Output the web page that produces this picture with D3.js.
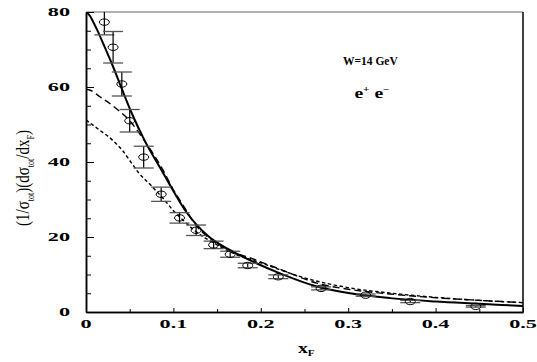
<!DOCTYPE html>
<html>
<head>
<meta charset="utf-8">
<script src="https://cdn.jsdelivr.net/npm/d3@7"></script>
<style>
  body { margin: 0; background: #fff; }
  text { font-family: "Liberation Serif", "Times New Roman", serif; }
</style>
</head>
<body>
<div id="chart"></div>
<script>
// measured points (x_F, normalized cross section, error)
const xF    = [0.021, 0.031, 0.041, 0.050, 0.066, 0.086, 0.107, 0.126, 0.146, 0.165, 0.185, 0.220, 0.269, 0.320, 0.371, 0.446];
const dsig  = [77.3, 70.6, 60.8, 51.0, 41.3, 31.4, 25.1, 21.8, 17.9, 15.4, 12.4, 9.4, 6.3, 4.5, 2.8, 1.5];
const dsErr = [3.4, 4.2, 3.2, 3.0, 2.9, 1.9, 1.4, 1.4, 1.0, 0.8, 0.6, 0.5, 0.4, 0.3, 0.3, 0.2];

// model curves
const solidX = [0, 0.005, 0.0083, 0.013, 0.02, 0.031, 0.041, 0.052, 0.068, 0.086, 0.095, 0.115, 0.14, 0.165, 0.195, 0.222, 0.264, 0.302, 0.348, 0.4, 0.45, 0.5];
const solidY = [80, 78.8, 77.3, 75.1, 71.4, 65.4, 59.5, 53.2, 45.3, 38.0, 34.3, 26.6, 20.2, 16.5, 13.0, 10.3, 6.8, 5.0, 3.7, 2.8, 2.2, 1.6];

const longX = [0, 0.004, 0.016, 0.023, 0.038, 0.05, 0.065, 0.088, 0.099, 0.114, 0.123, 0.15, 0.165, 0.188, 0.222, 0.264, 0.302, 0.348, 0.4, 0.45, 0.5];
const longY = [59.4, 59.2, 57.4, 56.3, 53.6, 51.0, 46.3, 37.9, 33.0, 27.4, 24.0, 18.3, 16.3, 14.4, 11.4, 7.7, 6.0, 4.8, 3.8, 3.1, 2.5];

const shortX = [0, 0.015, 0.03, 0.042, 0.05, 0.06, 0.075, 0.09, 0.1, 0.111, 0.125, 0.15, 0.17, 0.2, 0.25, 0.3, 0.35, 0.4, 0.45, 0.5];
const shortY = [51.2, 48.6, 45.9, 43.0, 40.4, 37.2, 33.6, 29.8, 27.0, 24.5, 21.6, 17.9, 15.5, 13.1, 9.1, 6.5, 5.0, 3.9, 3.1, 2.5];

const xTicks = [0, 0.1, 0.2, 0.3, 0.4, 0.5];
const xMinor = [0.05, 0.15, 0.25, 0.35, 0.45];
const yTicks = [0, 20, 40, 60, 80];
const yMinor = [5, 10, 15, 25, 30, 35, 45, 50, 55, 65, 70, 75];

var W = 537, H = 362;
var margin = { top: 12, right: 14, bottom: 50, left: 86 },
    width = W - margin.left - margin.right,
    height = H - margin.top - margin.bottom;

var svg = d3.select("#chart").append("svg")
    .attr("width", W).attr("height", H);

var g = svg.append("g")
    .attr("transform", "translate(" + margin.left + "," + margin.top + ")");

var x = d3.scaleLinear().domain([0, 0.5]).range([0, width]);
var y = d3.scaleLinear().domain([0, 80]).range([height, 0]);

g.append("clipPath").attr("id", "clip")
  .append("rect").attr("width", width).attr("height", height);

// frame: grey top, black right
g.append("line").attr("x1", 0).attr("x2", width).attr("y1", 0).attr("y2", 0)
    .attr("stroke", "#999").attr("stroke-width", 1.5);
g.append("line").attr("x1", width).attr("x2", width).attr("y1", 0).attr("y2", height)
    .attr("stroke", "#000").attr("stroke-width", 1.5);

// axes (ticks pointing inward)
g.append("g").attr("transform", "translate(0," + height + ")")
    .call(d3.axisBottom(x).tickValues(xMinor).tickSize(-3).tickSizeOuter(0).tickFormat(""));
g.append("g").attr("transform", "translate(0," + height + ")")
    .call(d3.axisBottom(x).tickValues(xTicks).tickSize(-4).tickSizeOuter(0).tickFormat(""));
g.append("g")
    .call(d3.axisLeft(y).tickValues(yMinor).tickSize(-5).tickSizeOuter(0).tickFormat(""));
g.append("g")
    .call(d3.axisLeft(y).tickValues(yTicks).tickSize(-8).tickSizeOuter(0).tickFormat(""));
g.selectAll(".domain").attr("stroke-width", 1.5);

// tick labels (wide bold serif)
g.selectAll(".xlab").data(xTicks).enter().append("text")
    .attr("transform", d => "translate(" + x(d) + "," + (height + 15.5) + ") scale(1.85,1)")
    .attr("text-anchor", "middle")
    .style("font-size", "12px").style("font-weight", "bold")
    .text(d => d === 0 ? "0" : d3.format(".1f")(d));
g.selectAll(".ylab").data(yTicks).enter().append("text")
    .attr("transform", d => "translate(-16," + (y(d) + 4) + ") scale(1.85,1)")
    .attr("text-anchor", "end")
    .style("font-size", "12px").style("font-weight", "bold")
    .text(d => d);

// curves
var line = d3.line().x(d => x(d[0])).y(d => y(d[1])).curve(d3.curveMonotoneX);
var curves = g.append("g").attr("clip-path", "url(#clip)");
curves.append("path").datum(d3.zip(solidX, solidY))
    .attr("d", line).attr("fill", "none").attr("stroke", "#000").attr("stroke-width", 2);
curves.append("path").datum(d3.zip(longX, longY))
    .attr("d", line).attr("fill", "none").attr("stroke", "#000").attr("stroke-width", 1.4)
    .attr("stroke-dasharray", "7,4");
curves.append("path").datum(d3.zip(shortX, shortY))
    .attr("d", line).attr("fill", "none").attr("stroke", "#000").attr("stroke-width", 1.4)
    .attr("stroke-dasharray", "3.5,2.5");

// data points with error bars
var pts = g.append("g").attr("clip-path", "url(#clip)")
    .selectAll(".pt").data(d3.zip(xF, dsig, dsErr)).enter().append("g");
pts.append("line")
    .attr("x1", d => x(d[0])).attr("x2", d => x(d[0]))
    .attr("y1", d => y(d[1] + d[2])).attr("y2", d => y(d[1] - d[2]))
    .attr("stroke", "#000").attr("stroke-width", 1.2);
[1, -1].forEach(s => {
  pts.append("line")
      .attr("x1", d => x(d[0]) - 10).attr("x2", d => x(d[0]) + 10)
      .attr("y1", d => y(d[1] + s * d[2])).attr("y2", d => y(d[1] + s * d[2]))
      .attr("stroke", "#555").attr("stroke-width", 1.3);
});
pts.append("ellipse")
    .attr("cx", d => x(d[0])).attr("cy", d => y(d[1]))
    .attr("rx", 5).attr("ry", 3.2)
    .attr("fill", "none").attr("stroke", "#000").attr("stroke-width", 1);

// annotations
g.append("text").attr("x", 257).attr("y", 53)
    .style("font-size", "11.5px").style("font-weight", "bold")
    .text("W=14 GeV");
var ee = g.append("text").attr("x", 276).attr("y", 86)
    .attr("transform", "translate(-118,0) scale(1.4,1)")
    .style("font-size", "14px").style("font-weight", "bold");
ee.append("tspan").text("e");
ee.append("tspan").attr("dy", -6).style("font-size", "8px").text("+");
ee.append("tspan").attr("dy", 6).text(" e");
ee.append("tspan").attr("dy", -6).style("font-size", "8px").text("\u2212");

// axis titles
var xl = svg.append("text")
    .attr("transform", "translate(298,353) scale(1.4,1)")
    .style("font-size", "14px").style("font-weight", "bold");
xl.append("tspan").text("x");
xl.append("tspan").attr("dy", 3).style("font-size", "8px").text("F");

var yl = svg.append("text")
    .attr("transform", "translate(29,178) rotate(-90) scale(1,1.25)")
    .attr("text-anchor", "middle")
    .style("font-size", "15px");
yl.append("tspan").text("(1/\u03c3");
yl.append("tspan").attr("dy", 4).style("font-size", "8px").text("tot");
yl.append("tspan").attr("dy", -4).text(")(d\u03c3");
yl.append("tspan").attr("dy", 4).style("font-size", "8px").text("tot");
yl.append("tspan").attr("dy", -4).text("/dx");
yl.append("tspan").attr("dy", 4).style("font-size", "8px").text("F");
yl.append("tspan").attr("dy", -4).text(")");
</script>
</body>
</html>
